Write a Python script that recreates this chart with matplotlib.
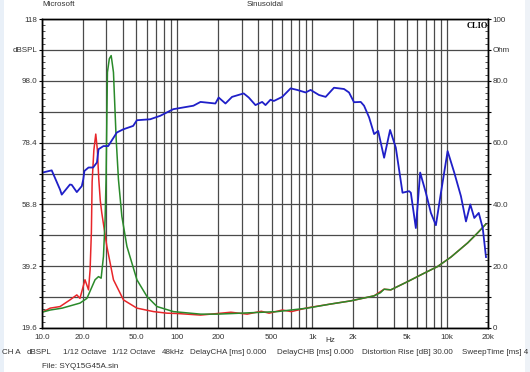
import matplotlib
matplotlib.use("Agg")
import matplotlib.pyplot as plt
from matplotlib.patches import Rectangle

plt.rcParams['font.family'] = ['Liberation Sans', 'DejaVu Sans']

# ---------------- data ----------------
# Frequency response (blue), dBSPL
resp_freq = [10.0, 10.1, 11.8, 13.6, 14.0, 16.1, 16.6, 18.1, 19.7, 20.2, 20.6, 22.1, 23.9, 25.5, 26.2,
             28.5, 30.9, 35.8, 39.9, 47.3, 50.4, 63.2, 75.0, 93.7, 132, 149, 192, 203, 228, 255,
             311, 339, 380, 426, 451, 491, 520, 600, 692, 775, 893, 973, 1122, 1257, 1449, 1719,
             1872, 2039, 2286, 2419, 2636, 2872, 3076, 3405, 3770, 4156, 4660, 5214, 5370, 5848,
             6295, 6937, 7557, 8231, 8968, 10050, 11250, 12610, 13740, 14790, 15840, 17080,
             18280, 19330]
resp_db = [68.6, 68.9, 69.6, 63.5, 61.9, 65.1, 65.0, 62.7, 64.6, 66.7, 69.4, 70.5, 70.5, 72.1, 76.3,
           77.3, 77.3, 81.6, 82.6, 83.7, 85.5, 85.8, 86.9, 89.0, 90.1, 91.3, 90.8, 92.7, 90.8, 92.9,
           94.0, 92.7, 90.3, 91.3, 90.3, 92.0, 91.6, 92.9, 95.6, 95.1, 94.3, 95.1, 93.5, 92.9, 95.8, 95.4,
           94.3, 91.2, 91.3, 90.1, 86.4, 81.1, 82.1, 73.6, 82.4, 76.8, 62.5, 63.0, 62.5, 51.3,
           68.9, 62.5, 56.1, 52.2, 62.5, 75.7, 68.9, 61.4, 53.4, 58.8, 54.5, 56.1,
           51.3, 42.1]

# 2nd harmonic distortion (red), dBSPL
red_freq = [10.0, 11.5, 13.6, 16.1, 18.1, 19.1, 20.8, 22.1, 22.7, 23.2, 23.5, 24.2, 25.0, 25.7,
            26.3, 27.0, 27.7, 30.2, 33.8, 40.1, 50.4, 67.0, 84.0, 100, 149, 200, 250, 330, 420,
            480, 600, 700, 920, 1368, 1926, 2870, 3405, 3815, 5078, 6748, 8472, 10640, 14150,
            16790, 19330]
red_db = [24.6, 25.9, 26.4, 28.5, 30.1, 29.0, 34.9, 31.7, 38.1, 50.0, 66.0, 76.0, 81.1, 76.0,
          67.0, 60.0, 56.1, 45.5, 34.9, 28.5, 25.9, 24.8, 24.3, 24.2, 23.7, 24.2, 24.6, 24.0, 24.9,
          24.3, 25.3, 24.8, 26.0, 27.2, 28.2, 29.8, 31.9, 31.7, 34.3, 37.0, 39.1, 42.1, 46.6,
          49.8, 52.6]

# 3rd harmonic distortion (green), dBSPL
green_freq = [10.0, 11.5, 14.1, 19.1, 21.5, 24.7, 26.2, 27.4, 28.5, 29.3, 29.8, 30.5, 31.5,
              32.5, 33.0, 33.8, 35.4, 36.8, 39.0, 42.5, 50.4, 59.8, 71.0, 93.9, 149, 200, 294,
              551, 920, 1368, 1926, 2870, 3200, 3405, 3815, 5078, 6748, 8472, 10640, 14150,
              16790, 19330]
green_db = [24.6, 25.3, 25.9, 27.5, 29.0, 34.9, 35.9, 35.4, 42.3, 54.0, 66.7, 100.7, 105.0,
            106.0, 104.0, 100.7, 79.5, 66.7, 55.0, 45.5, 34.9, 29.6, 26.4, 24.8, 24.0, 24.0, 24.3,
            24.8, 25.9, 27.2, 28.2, 29.8, 30.8, 31.9, 31.7, 34.3, 37.0, 39.1, 42.1, 46.6,
            49.8, 52.6]

x_ticks = [10, 20, 50, 100, 200, 500, 1000, 2000, 5000, 10000, 20000]
x_labels = ["10.0", "20.0", "50.0", "100", "200", "500", "1k", "2k", "5k", "10k", "20k"]
x_grid = [10, 20, 30, 40, 50, 60, 70, 80, 90, 100, 200, 300, 400, 500, 600, 700, 800, 900,
          1000, 2000, 3000, 4000, 5000, 6000, 7000, 8000, 9000, 10000, 20000]

left_ticks = [19.6, 29.4, 39.2, 49.0, 58.8, 68.6, 78.4, 88.2, 98.0, 107.8, 117.6]
left_labels = ["19.6", "", "39.2", "", "58.8", "", "78.4", "", "98.0", "dBSPL", "118"]
right_ticks = [0, 10, 20, 30, 40, 50, 60, 70, 80, 90, 100]
right_labels = ["0", "", "20.0", "", "40.0", "", "60.0", "", "80.0", "Ohm", "100"]

info_items = ["CH A", "dBSPL", "1/12 Octave", "1/12 Octave", "48kHz", "DelayCHA [ms] 0.000",
              "DelayCHB [ms] 0.000", "Distortion Rise [dB] 30.00", "SweepTime [ms] 4"]
info_x = [2, 27, 63, 112, 162, 190, 277, 362, 462]

# ---------------- figure ----------------
W, H = 530, 372
FS = 5.8
TC = '#333333'
fig = plt.figure(figsize=(W / 100, H / 100), dpi=100)
fig.patch.set_facecolor('white')

# pale side borders as in screenshot
fig.add_artist(Rectangle((0, 0), 4 / W, 1, transform=fig.transFigure, color='#e9f0f8', lw=0))
fig.add_artist(Rectangle((1 - 5 / W, 0), 5 / W, 1, transform=fig.transFigure, color='#eef2f7', lw=0))

L, R, T, B = 42, 488, 19, 328
ax = fig.add_axes([L / W, 1 - B / H, (R - L) / W, (B - T) / H])
ax.set_xscale('log')
ax.set_xlim(10, 20000)
ax.set_ylim(19.6, 117.6)

gcol = '#4a4a4a'
for f in x_grid:
    ax.axvline(f, color=gcol, lw=0.9, zorder=1)
for yv in left_ticks:
    ax.axhline(yv, color=gcol, lw=0.9, zorder=1)

ax.plot(red_freq, red_db, color='#e8262a', lw=1.1, zorder=3)
ax.plot(green_freq, green_db, color='#2a8a2a', lw=1.1, zorder=4)
ax.plot(resp_freq, resp_db, color='#1f1fc8', lw=1.3, zorder=5)

ax.set_xticks(x_ticks)
ax.set_xticklabels(x_labels)
ax.xaxis.set_minor_locator(matplotlib.ticker.NullLocator())
ax.tick_params(axis='x', length=0, pad=4, labelsize=FS, labelcolor=TC)
ax.text(1370, 19.6 - 2.9, "Hz", transform=ax.transData, ha='center', va='top', fontsize=FS,
        color=TC, clip_on=False)

ax.set_yticks(left_ticks)
ax.set_yticklabels(left_labels)
ax.set_yticks([19.6 + 1.96 * i for i in range(51)], minor=True)
ax.tick_params(axis='y', which='major', length=2, direction='out', pad=1.5, labelsize=FS,
               labelcolor=TC)
ax.tick_params(axis='y', which='minor', length=2.5, direction='in', color=TC)

ax2 = ax.twinx()
ax2.set_ylim(0, 100)
ax2.set_yticks(right_ticks)
ax2.set_yticklabels(right_labels)
ax2.set_yticks(range(0, 101, 2), minor=True)
ax2.tick_params(axis='y', which='major', length=2, direction='out', pad=1.5, labelsize=FS,
                labelcolor=TC)
ax2.tick_params(axis='y', which='minor', length=2.5, direction='in', color=TC)

for a in (ax, ax2):
    for s in a.spines.values():
        s.set_color('black')
        s.set_linewidth(1.0)

ax.text(1.0, 0.99, "CLIO", transform=ax.transAxes, ha='right', va='top', fontsize=6,
        fontweight='bold', family=['Liberation Serif', 'DejaVu Serif'], color='black', zorder=6)

fig.text(L / W, 1 - 5 / H, "Microsoft", ha='left', va='center', fontsize=FS, color=TC)
fig.text(265 / W, 1 - 5 / H, "Sinusoidal", ha='center', va='center', fontsize=FS, color=TC)

for xi, s in zip(info_x, info_items):
    fig.text(xi / W, 1 - 353 / H, s, ha='left', va='center', fontsize=FS, color=TC)
fig.text(42 / W, 1 - 366 / H, "File: SYQ15G45A.sin", ha='left', va='center', fontsize=FS,
         color=TC)

fig.savefig("out.png", dpi=100)
